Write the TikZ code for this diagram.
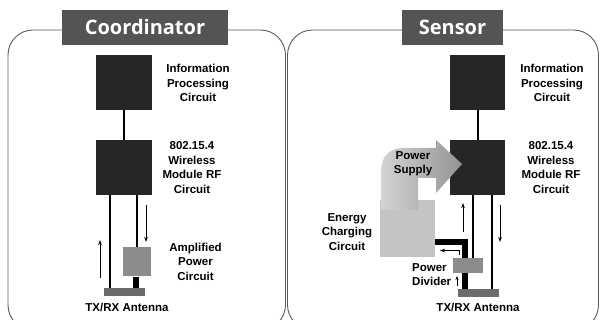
\documentclass[tikz,border=0pt]{standalone}
\usepackage{fontspec}
\setmainfont{Liberation Sans}
\newfontfamily\titlefont{Open Sans}
\usetikzlibrary{arrows.meta}
\begin{document}
\begin{tikzpicture}[x=1pt,y=-1pt,
  panel/.style={draw=black!65, line width=0.9pt, rounded corners=25pt},
  titlebox/.style={fill=black!67, text=white, font=\titlefont\bfseries\fontsize{20}{23}\selectfont, inner sep=0pt, minimum height=35pt},
  darkbox/.style={fill=black!85, inner sep=0pt, minimum height=55pt},
  ampbox/.style={fill=black!45, inner sep=0pt},
  antbox/.style={fill=black!58, inner sep=0pt, minimum width=41pt, minimum height=8pt},
  enbox/.style={fill=black!23, inner sep=0pt},
  lbl/.style={font=\bfseries\fontsize{11.5}{14.5}\selectfont, align=center, inner sep=0pt},
  wire/.style={line width=2pt, black},
  fatwire/.style={line width=6pt, black},
  sig/.style={line width=0.9pt, -{Stealth[length=5pt,width=3.5pt]}},
]
\useasboundingbox (0,0) rectangle (600,320);
\clip (0,0) rectangle (600,320);

% panels
\draw[panel] (8,30) rectangle (285.5,330);
\node[titlebox, minimum width=166pt] (titleA) at (145,27.5) {Coordinator};
\draw[panel] (287.5,30) rectangle (598.5,330);
\node[titlebox, minimum width=101pt] (titleB) at (452.5,27.5) {Sensor};

% ---------- Coordinator ----------
\node[darkbox, minimum width=56pt] (ipcA) at (124,82.5) {};
\node[darkbox, minimum width=56pt] (rfA) at (124,167.5) {};
\draw[wire] (ipcA.south) -- (rfA.north);
\node[ampbox, minimum width=28pt, minimum height=29pt] (ampA) at (137,262) {};
\node[antbox] (antA) at (124.5,292.5) {};
\draw[wire] ([xshift=-14pt]rfA.south) -- ([xshift=-14pt]rfA.south |- antA.north);
\draw[wire] (rfA.south -| ampA.north) -- (ampA.north);
\draw[fatwire] ([xshift=-1pt]ampA.south) -- ([xshift=-1pt]ampA.south |- antA.north);
\draw[sig] (146,205) -- (146,242);
\draw[sig] (100,278) -- (100,240);

\node[lbl] (tIpcA) at (198,83) {Information\\Processing\\Circuit};
\node[lbl] (tRfA) at (192,167.5) {802.15.4\\Wireless\\Module RF\\Circuit};
\node[lbl] (tAmpA) at (195.5,261.5) {Amplified\\Power\\Circuit};
\node[lbl] (tAntA) at (127,307) {TX/RX Antenna};

% ---------- Sensor ----------
\node[darkbox, minimum width=55pt] (ipcB) at (477.5,82.5) {};
\node[darkbox, minimum width=55pt] (rfB) at (477.5,167.5) {};
\draw[wire] (ipcB.south) -- (rfB.north);
\node[ampbox, minimum width=30pt, minimum height=15pt] (divB) at (468,265.5) {};
\node[antbox] (antB) at (478.5,293) {};
\node[enbox, minimum width=55pt, minimum height=57pt] (enB) at (407.5,228.5) {};

\draw[wire] ([xshift=-4.5pt]rfB.south) -- ([xshift=-4.5pt]rfB.south |- divB.north);
\draw[wire] ([xshift=14.5pt]rfB.south) -- ([xshift=14.5pt]rfB.south |- antB.north);
\coordinate (Lc) at (464.5,242);
\draw[fatwire] (enB.east |- Lc) -- (Lc) -- (Lc |- divB.north);
\draw[fatwire] (Lc |- divB.south) -- (Lc |- antB.north);

% power supply arrow
\shade[left color=black!17, right color=black!42]
  (381,210) -- (381,172) .. controls (381,156) and (389,148) .. (405,148)
  -- (436,148) -- (436,140) -- (462,164) -- (436,193) -- (436,178)
  -- (418,178) -- (418,210) -- cycle;

\draw[sig] (459,255) -- (459,250.5) -- (440,250.5);
\draw[sig] (463,232) -- (463,203);
\draw[sig] (500,205) -- (500,242);
\draw[line width=0.9pt, -{Stealth[length=4pt,width=3pt]}] (457,286) -- (457,276);

\node[lbl] (tIpcB) at (552,83) {Information\\Processing\\Circuit};
\node[lbl] (tRfB) at (551,167.5) {802.15.4\\Wireless\\Module RF\\Circuit};
\node[lbl] (tAntB) at (478,307) {TX/RX Antenna};
\node[lbl] (tEnB) at (347,232) {Energy\\Charging\\Circuit};
\node[lbl] (tPsB) at (413,163.5) {Power\\Supply};
\node[lbl, align=left, anchor=west] (tDivB) at (412,274.5) {Power\\Divider};
\end{tikzpicture}
\end{document}
